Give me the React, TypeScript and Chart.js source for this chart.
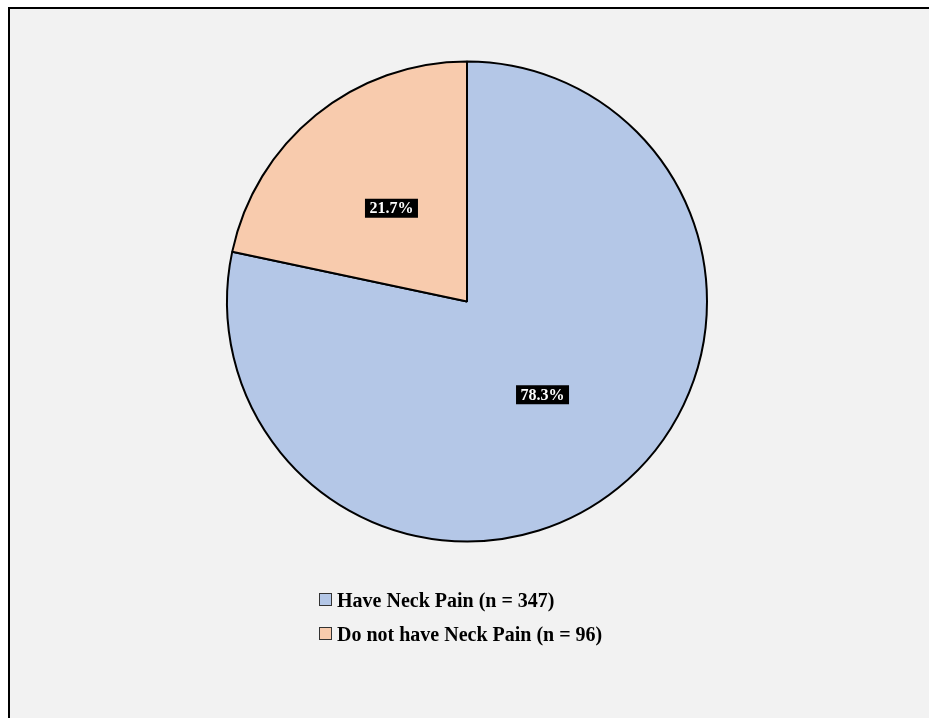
import React, { useEffect, useRef } from "react";
import { Chart, registerables } from "chart.js";

Chart.register(...registerables);

const categories: string[] = ["Have Neck Pain (n = 347)", "Do not have Neck Pain (n = 96)"];
const counts: number[] = [347, 96];
const percentLabels: string[] = ["78.3%", "21.7%"];
const sliceColors: string[] = ["#b4c7e7", "#f8cbad"];

const SERIF = "'Liberation Serif', 'Times New Roman', serif";

const labelPlugin = {
  id: "boxLabels",
  afterDatasetsDraw(chart: any) {
    const ctx = chart.ctx as CanvasRenderingContext2D;
    const meta = chart.getDatasetMeta(0);
    ctx.save();
    ctx.font = `bold 16px ${SERIF}`;
    ctx.textAlign = "center";
    ctx.textBaseline = "middle";
    meta.data.forEach((arc: any, i: number) => {
      const p = arc.getCenterPoint();
      const text = percentLabels[i];
      const w = ctx.measureText(text).width + 9;
      const h = 19;
      ctx.fillStyle = "#000";
      ctx.fillRect(p.x - w / 2, p.y - h / 2, w, h);
      ctx.fillStyle = "#fff";
      ctx.fillText(text, p.x, p.y + 1);
    });
    ctx.restore();
  },
};

export default function App() {
  const ref = useRef<HTMLCanvasElement | null>(null);
  useEffect(() => {
    if (!ref.current) return;
    const chart = new Chart(ref.current, {
      type: "pie",
      data: {
        labels: categories,
        datasets: [
          {
            data: counts,
            backgroundColor: sliceColors,
            borderColor: "#000",
            borderWidth: 2,
          },
        ],
      },
      options: {
        responsive: false,
        animation: false,
        radius: 240,
        layout: { padding: { left: 0, right: 5, top: 0, bottom: 124 } },
        plugins: {
          legend: { display: false },
          tooltip: { enabled: false },
        },
      } as any,
      plugins: [labelPlugin],
    });
    return () => chart.destroy();
  }, []);

  return (
    <div
      style={{
        position: "fixed",
        left: 8,
        top: 7,
        width: 921,
        height: 711,
        boxSizing: "border-box",
        borderTop: "2px solid #000",
        borderLeft: "2px solid #000",
        background: "#f2f2f2",
        overflow: "hidden",
      }}
    >
      <canvas ref={ref} width={919} height={709} style={{ position: "absolute", left: 0, top: 0 }} />
      {categories.map((c, i) => (
        <div
          key={c}
          style={{
            position: "absolute",
            left: 309,
            top: 581 + i * 34,
            height: 20,
            lineHeight: "20px",
            fontFamily: SERIF,
            fontWeight: "bold",
            fontSize: 20,
            color: "#000",
            whiteSpace: "nowrap",
          }}
        >
          <span
            style={{
              position: "absolute",
              left: 0,
              top: 3,
              width: 11,
              height: 11,
              border: "1.5px solid #333",
              background: sliceColors[i],
            }}
          />
          <span style={{ position: "absolute", left: 18, top: 0 }}>{c}</span>
        </div>
      ))}
    </div>
  );
}
